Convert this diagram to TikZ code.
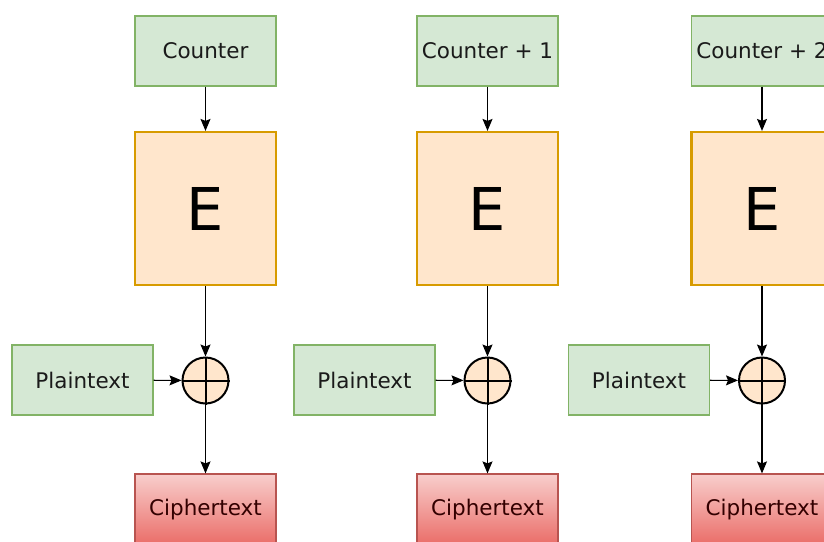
\documentclass[tikz,border=0pt]{standalone}
\usepackage{fontspec}
\setmainfont{DejaVu Sans}
\usetikzlibrary{arrows.meta}

\begin{document}
\begin{tikzpicture}[x=1pt,y=-1pt,
  greenbox/.style={draw=greenDraw,fill=greenFill,line width=1.2pt,minimum width=141pt,minimum height=70pt,inner sep=0pt,text=textColor,font=\fontsize{21.5}{24}\selectfont},
  ebox/.style={draw=orangeDraw,fill=orangeFill,line width=2.2pt,minimum width=141pt,minimum height=153pt,inner sep=0pt,font=\fontsize{59}{60}\selectfont},
  redbox/.style={draw=redDraw,top color=redTop,bottom color=redBottom,line width=1.2pt,minimum width=141pt,minimum height=72pt,inner sep=0pt,text=redText,font=\fontsize{21.5}{24}\selectfont},
  xorc/.style={circle,draw=black,fill=orangeFill,line width=2pt,minimum size=46pt,inner sep=0pt},
  flow/.style={draw=black,line width=1.1pt,-{Stealth[length=12pt,width=10pt,inset=2pt]}}]
\definecolor{greenFill}{RGB}{213,232,212}
\definecolor{greenDraw}{RGB}{130,179,102}
\definecolor{orangeFill}{RGB}{255,230,204}
\definecolor{orangeDraw}{RGB}{215,155,0}
\definecolor{redTop}{RGB}{248,206,204}
\definecolor{redBottom}{RGB}{234,107,102}
\definecolor{redDraw}{RGB}{184,84,80}
\definecolor{redText}{RGB}{51,0,0}
\definecolor{textColor}{RGB}{26,26,26}
\path[use as bounding box,fill=white] (0,0) rectangle (824,541);
\clip (0,0) rectangle (824,541);

% first block
\node[greenbox] (ctr1) at (205.5, 51.0) {Counter};
\node[ebox] (enc1) at (205.5,208.5) {E};
\node[xorc] (xor1) at (205.5,380.5) {};
\node[greenbox] (pt1) at ( 82.5,380.0) {Plaintext};
\node[redbox] (ct1) at (205.5,510.0) {Ciphertext};

% second block
\node[greenbox] (ctr2) at (487.5, 51.0) {Counter + 1};
\node[ebox] (enc2) at (487.5,208.5) {E};
\node[xorc] (xor2) at (487.5,380.5) {};
\node[greenbox] (pt2) at (364.5,380.0) {Plaintext};
\node[redbox] (ct2) at (487.5,510.0) {Ciphertext};

% third block
\node[greenbox] (ctr3) at (762.0, 51.0) {Counter + 2};
\node[ebox] (enc3) at (762.0,208.5) {E};
\node[xorc] (xor3) at (762.0,380.5) {};
\node[greenbox] (pt3) at (639.0,380.0) {Plaintext};
\node[redbox] (ct3) at (762.0,510.0) {Ciphertext};

% xor crosses
\draw[line width=2pt] (xor1.north) -- (xor1.south) (xor1.west) -- (xor1.east);
\draw[line width=2pt] (xor2.north) -- (xor2.south) (xor2.west) -- (xor2.east);
\draw[line width=2pt] (xor3.north) -- (xor3.south) (xor3.west) -- (xor3.east);

% connectors
\draw[flow] (ctr1) -- (enc1);
\draw[flow] (enc1) -- (xor1);
\draw[flow] (pt1) -- (xor1);
\draw[flow] (xor1) -- (ct1);

\draw[flow] (ctr2) -- (enc2);
\draw[flow] (enc2) -- (xor2);
\draw[flow] (pt2) -- (xor2);
\draw[flow] (xor2) -- (ct2);

\draw[flow] (ctr3) -- (enc3);
\draw[flow] (enc3) -- (xor3);
\draw[flow] (pt3) -- (xor3);
\draw[flow] (xor3) -- (ct3);
\end{tikzpicture}
\end{document}
